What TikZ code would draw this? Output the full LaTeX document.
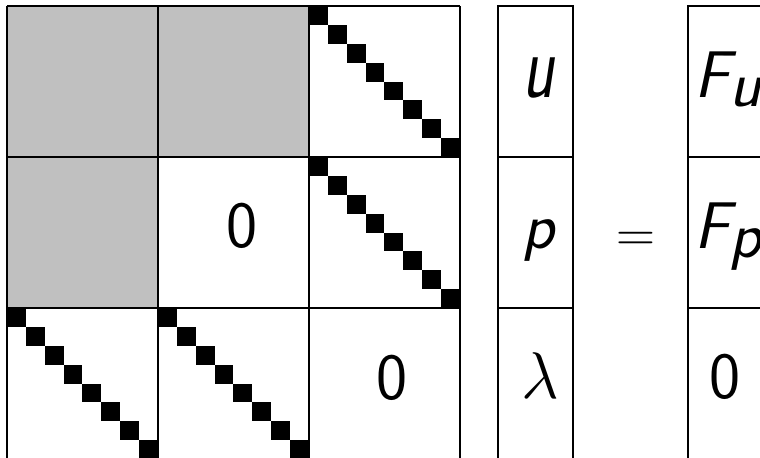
\RequirePackage{fix-cm}
\documentclass[tikz,border=0pt]{standalone}
\usepackage{graphicx}
\usepackage{tikz}
\definecolor{blockgray}{HTML}{C0C0C0}
\newcommand{\bigtxt}{\fontsize{33}{40}\selectfont\sffamily}
\newcommand{\eqtxt}{\fontsize{27}{32}\selectfont\sffamily}
\tikzset{
  gridline/.style={draw=black,line width=0.9pt},
  diagsq/.style={fill=black},
  lbl/.style={font=\bigtxt,inner sep=0pt,anchor=base}
}
\begin{document}
\begin{tikzpicture}[x=75.5pt,y=75.5pt]
\useasboundingbox (-0.046,0.013) rectangle (4.987,3.04);
% shaded blocks
\fill[blockgray] (0,2) rectangle (2,3);
\fill[blockgray] (0,1) rectangle (1,2);
% diagonal blocks (lower-left corners)
\foreach \bx/\by in {2/2,2/1,0/0,1/0}{
  \foreach \k in {0,...,7}{
    \fill[diagsq] (\bx+\k/8,\by+1-\k/8) rectangle ++(0.125,-0.125);
  }
}
% block matrix
\foreach \i in {0,1,2,3}{
  \draw[gridline] (\i,0) -- (\i,3);
  \draw[gridline] (0,\i) -- (3,\i);
}
% unknowns and right-hand side
\foreach \r in {0,1,2}{
  \draw[gridline] (3.25,\r) rectangle (3.75,\r+1);
  \draw[gridline] (4.51,\r) rectangle (5.01,\r+1);
}
\node[lbl] (zmid) at (1.556,1.404) {0};
\node[lbl] (zlow) at (2.55,0.397) {0};
\node[lbl] (vecu) at (3.517,2.397) {\scalebox{1}[1.4]{\itshape u}};
\node[lbl] (vecp) at (3.521,1.397) {\itshape p};
\node[lbl] (veclam) at (3.53,0.404) {$\lambda$};
\node[lbl,font=\eqtxt] (eqs) at (4.166,1.374) {$=$};
\node[lbl,anchor=base west] (rhsu) at (4.55,2.397) {$\textit{F}_{\textit{u}}$};
\node[lbl,anchor=base west] (rhsp) at (4.55,1.397) {$\textit{F}_{\textit{p}}$};
\node[lbl] (rhsz) at (4.755,0.404) {0};
\end{tikzpicture}
\end{document}
